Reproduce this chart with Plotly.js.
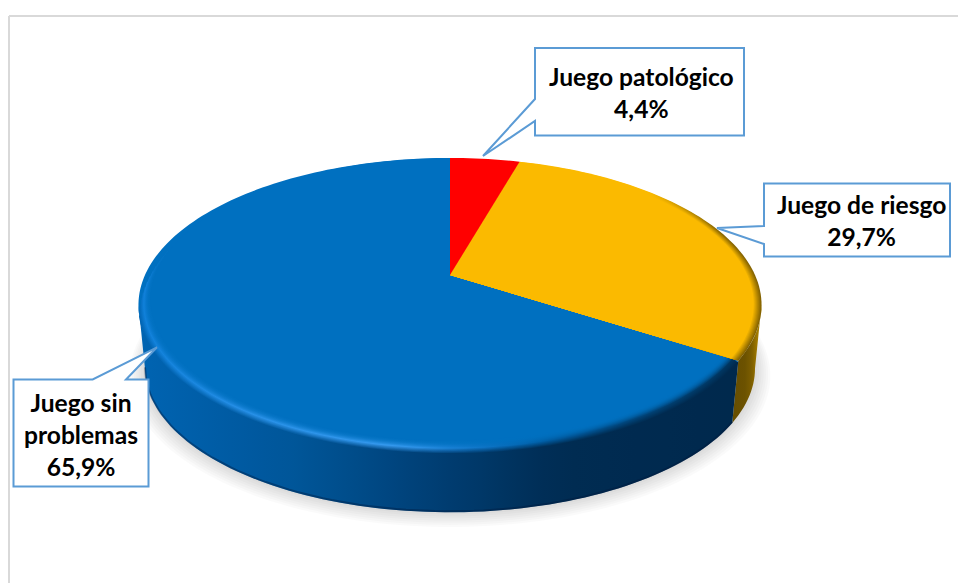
<!DOCTYPE html>
<html>
<head>
<meta charset="utf-8">
<script src="https://cdn.plot.ly/plotly-3.0.1.min.js"></script>
<style>html,body{margin:0;padding:0;background:#fff}#chart{width:958px;height:583px}</style>
</head>
<body>
<div id="chart"></div>
<script>
// ---- data
const categories = ["Juego patológico", "Juego de riesgo", "Juego sin problemas"];
const labelLines = [["Juego patológico"], ["Juego de riesgo"], ["Juego sin", "problemas"]];
const shares = [4.4, 29.7, 65.9];
const faceColors = ["#FF0000", "#FBBA00", "#0070C0"];

// ---- projection of the tilted disc
const CX = 450, CY = 275, A = 305, K = 140.9, PERSP = 0.204;
const BOTTOM_SCALE = 0.979, BOTTOM_SHIFT = 64;
const XMIN = 138, XMAX = 761;
const LEFT_TANGENT = 258.2, RIGHT_TANGENT = 101.8;

function pt(deg, s, d) {
  const r = deg * Math.PI / 180, u = Math.sin(r), v = Math.cos(r), w = 1 + PERSP * v;
  return [CX + A * s * u / w, CY - K * s * v / w + d];
}
function arc(from, to, s, d) {
  const n = Math.max(2, Math.ceil(Math.abs(to - from) / 1.5)), out = [];
  for (let i = 0; i <= n; i++) out.push(pt(from + (to - from) * i / n, s, d));
  return out;
}
function mix(a, b, t) { return a.map((c, i) => c + (b[i] - c) * t); }
function css(c) { return "rgb(" + c.map(Math.round).join(",") + ")"; }
function stopAt(stops, x) {
  if (x <= stops[0][0]) return stops[0][1];
  for (let i = 1; i < stops.length; i++) {
    if (x <= stops[i][0]) return mix(stops[i-1][1], stops[i][1], (x - stops[i-1][0]) / (stops[i][0] - stops[i-1][0]));
  }
  return stops[stops.length-1][1];
}

// sector angles from the values
const total = shares.reduce((a, b) => a + b, 0);
const ang = []; let cum = 0;
shares.forEach(v => { ang.push([cum / total * 360, (cum + v) / total * 360]); cum += v; });

const traces = [];
function poly(points, extra) {
  traces.push(Object.assign({
    type: "scatter", mode: "none", fill: "toself",
    x: points.map(p => p[0]), y: points.map(p => p[1]),
    hoverinfo: "skip", showlegend: false
  }, extra));
}
function gradient(fn, x0, x1) {
  const cs = [];
  for (let i = 0; i <= 20; i++) { const t = i / 20; cs.push([t, css(fn(x0 + (x1 - x0) * t))]); }
  return { type: "horizontal", start: x0, stop: x1, colorscale: cs };
}
function sector(a, s, d) { return [[CX, CY + d]].concat(arc(a[0], a[1], s, d)); }

// soft shadow under the disc
for (let i = 7; i >= 0; i--) {
  poly(arc(0, 360, BOTTOM_SCALE * (1 + 0.0072 * i), BOTTOM_SHIFT + 0.86 * i), { fillcolor: "rgba(0,0,0,0.018)" });
}

// side walls
const blueSide = [[138,[0,100,178]],[300,[0,85,152]],[450,[0,60,112]],[560,[0,44,82]],[761,[0,40,76]]];
const yellowSide = [[725,[98,74,0]],[745,[108,82,0]],[752,[125,95,0]],[762,[190,145,0]]];
const blueHi = [[138,[15,128,218]],[250,[40,145,232]],[400,[55,155,240]],[460,[20,125,210]],[530,[0,100,175]],[620,[0,70,125]],[761,[0,50,90]]];
const blueFace = [0,112,192], yellowFace = [251,186,0], yellowEdge = [92,70,0];

poly(arc(RIGHT_TANGENT, ang[1][1], 1, 0).concat(arc(ang[1][1], RIGHT_TANGENT, BOTTOM_SCALE, BOTTOM_SHIFT)),
     { fillgradient: gradient(x => stopAt(yellowSide, x), 725, 765) });
poly(arc(ang[2][0], LEFT_TANGENT, 1, 0).concat(arc(LEFT_TANGENT, ang[2][0], BOTTOM_SCALE, BOTTOM_SHIFT)),
     { fillgradient: gradient(x => stopAt(blueSide, x), XMIN, XMAX) });

// darker foot of the wall
traces.push((() => {
  const p = arc(ang[2][0], LEFT_TANGENT, BOTTOM_SCALE, BOTTOM_SHIFT - 1);
  return { type: "scatter", mode: "lines", x: p.map(q => q[0]), y: p.map(q => q[1]),
           line: { color: "rgba(0,25,60,0.4)", width: 2 }, hoverinfo: "skip", showlegend: false };
})());

// top face of the blue slice
poly(sector(ang[2], 1, 0), { fillcolor: faceColors[2] });

// bevel of the blue slice (fades out towards the far rim)
const N = 16;
for (let k = 0; k < N - 1; k++) {
  const t = k / (N - 1);
  const end = 255 + 30 * t;
  poly(sector([ang[2][0], end], 1 - 0.04 * t, 2 - 6.5 * t), {
    fillgradient: gradient(x => {
      if (t < 0.4) return mix(stopAt(blueSide, x), stopAt(blueHi, x), t / 0.4);
      const u = (t - 0.4) / 0.6;
      return mix(stopAt(blueHi, x), blueFace, 1 - Math.pow(1 - u, 2.2));
    }, XMIN, XMAX)
  });
}
poly(sector(ang[2], 0.96, -4.5), { fillcolor: faceColors[2] });

// top face and bevel of the yellow slice
const yellowShade = (x, t) => {
  const f = Math.min(1, Math.max(0, (x - 650) / 70));
  return mix(yellowFace, mix(yellowEdge, yellowFace, t), f);
};
poly(sector(ang[1], 1, 0), { fillgradient: gradient(x => yellowShade(x, 0.25), 640, XMAX) });
for (let k = 1; k <= 7; k++) {
  const t = k / 7;
  poly(sector(ang[1], 1 - 0.025 * t, 0), { fillgradient: gradient(x => yellowShade(x, 0.25 + 0.75 * t), 640, XMAX) });
}

// red slice
poly(sector(ang[0], 1, 0), { fillcolor: faceColors[0] });

// ---- callouts
const LINE = "#5B9BD5";
function callout(points) {
  return { type: "path", xref: "x", yref: "y", layer: "above",
    path: "M" + points.map(p => p.join(",")).join("L") + "Z",
    fillcolor: "#FFFFFF", line: { color: LINE, width: 2 } };
}
const shapes = [
  { type: "line", xref: "x", yref: "y", x0: 9, x1: 958, y0: 16, y1: 16, layer: "below", line: { color: "#D9D9D9", width: 2 } },
  { type: "line", xref: "x", yref: "y", x0: 9, x1: 9, y0: 16, y1: 583, layer: "below", line: { color: "#D9D9D9", width: 2 } },
  callout([[535,48],[744,48],[744,135.5],[535,135.5],[535,121],[483,156],[535,99]]),
  callout([[764,183.5],[950,183.5],[950,256.5],[764,256.5],[764,244],[717,228],[764,226]]),
  callout([[13.5,379.5],[92.7,379.5],[157,347.3],[126,379.5],[148.5,379.5],[148.5,486.5],[13.5,486.5]])
];

const fmt = v => v.toFixed(1).replace(".", ",") + "%";
const boxCentres = [[641, 92], [861, 220], [81, 434]];
const annotations = categories.map((c, i) => ({
  xref: "x", yref: "y", x: boxCentres[i][0], y: boxCentres[i][1],
  text: labelLines[i].concat([fmt(shares[i])]).join("<br>"),
  showarrow: false, align: "center", xanchor: "center", yanchor: "middle",
  font: { family: "Lato, 'Open Sans', sans-serif", size: 24.6, color: "#000000", weight: 700 }
}));

Plotly.newPlot("chart", traces, {
  width: 958, height: 583,
  margin: { l: 0, r: 0, t: 0, b: 0 },
  paper_bgcolor: "#FFFFFF", plot_bgcolor: "#FFFFFF",
  showlegend: false, hovermode: false,
  xaxis: { range: [0, 958], visible: false, fixedrange: true },
  yaxis: { range: [583, 0], visible: false, fixedrange: true },
  shapes: shapes, annotations: annotations
}, { displayModeBar: false, staticPlot: true });
</script>
</body>
</html>
